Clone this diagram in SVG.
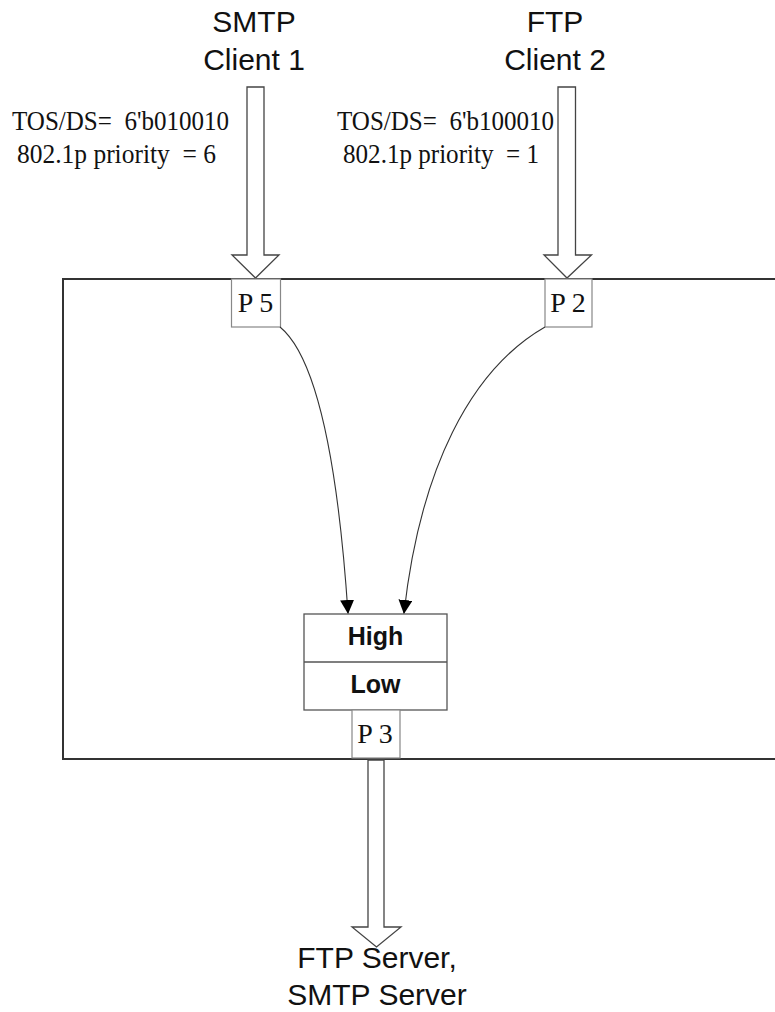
<svg xmlns="http://www.w3.org/2000/svg" width="775" height="1012" viewBox="0 0 775 1012">
<style>
.sans{font-family:"Liberation Sans",Arial,sans-serif;fill:#111}
.serif{font-family:"Liberation Serif","Times New Roman",serif;fill:#111;white-space:pre}
.blk{fill:#fff;stroke:#444;stroke-width:1.3}
.port{fill:#fff;stroke:#888;stroke-width:1.2}
.conn{fill:none;stroke:#333;stroke-width:1.1}
</style>
<defs>
<marker id="ah" viewBox="0 0 14 14" refX="13" refY="7" markerWidth="14" markerHeight="14" markerUnits="userSpaceOnUse" orient="auto">
<path d="M0,0 L14,7 L0,14 Z" fill="#000"/>
</marker>
</defs>
<rect width="775" height="1012" fill="#fff"/>

<g id="switch">
<rect x="63" y="279" width="730" height="480" fill="none" stroke="#333" stroke-width="2"/>
</g>

<g id="smtp-client">
<text class="sans" x="254" y="32" font-size="30" text-anchor="middle">SMTP</text>
<text class="sans" x="254" y="70" font-size="30" text-anchor="middle">Client 1</text>
<text class="serif" x="12" y="130" font-size="27.5" textLength="217" lengthAdjust="spacingAndGlyphs" xml:space="preserve">TOS/DS=  6'b010010</text>
<text class="serif" x="17" y="163" font-size="27.5" textLength="199" lengthAdjust="spacingAndGlyphs" xml:space="preserve">802.1p priority  = 6</text>
<polygon class="blk" points="247,87 264,87 264,255 279,255 255.5,278 232,255 247,255"/>
</g>

<g id="ftp-client">
<text class="sans" x="555" y="32" font-size="30" text-anchor="middle">FTP</text>
<text class="sans" x="555" y="70" font-size="30" text-anchor="middle">Client 2</text>
<text class="serif" x="337" y="130" font-size="27.5" textLength="217" lengthAdjust="spacingAndGlyphs" xml:space="preserve">TOS/DS=  6'b100010</text>
<text class="serif" x="343" y="163" font-size="27.5" textLength="196" lengthAdjust="spacingAndGlyphs" xml:space="preserve">802.1p priority  = 1</text>
<polygon class="blk" points="558,87 575.5,87 575.5,255 591.5,255 567,278 544,255 558,255"/>
</g>

<g id="port-p5">
<rect class="port" x="231.5" y="279" width="49" height="48"/>
<text class="serif" x="255.5" y="312" font-size="28" text-anchor="middle">P 5</text>
</g>

<g id="port-p2">
<rect class="port" x="545" y="279" width="47" height="48"/>
<text class="serif" x="568" y="312" font-size="28" text-anchor="middle">P 2</text>
</g>

<g id="queue">
<rect x="304" y="614" width="143" height="96" fill="#fff" stroke="#555" stroke-width="1.3"/>
<line x1="304" y1="662" x2="447" y2="662" stroke="#555" stroke-width="1.3"/>
<text class="sans" x="375.5" y="645" font-size="25" font-weight="bold" text-anchor="middle">High</text>
<text class="sans" x="375.5" y="693" font-size="25" font-weight="bold" text-anchor="middle">Low</text>
</g>

<g id="port-p3">
<rect class="port" x="352" y="710" width="48" height="48"/>
<text class="serif" x="375" y="743" font-size="28" text-anchor="middle">P 3</text>
</g>

<g id="connectors">
<path class="conn" d="M280,327 C318,358 338,465 348,613" marker-end="url(#ah)"/>
<path class="conn" d="M545,327 C470,370 420,470 404,613" marker-end="url(#ah)"/>
<polygon points="368,760 368,927 352,927 376.5,947 401,927 384,927 384,760" fill="#fff" stroke="#444" stroke-width="1.3"/>
</g>

<g id="servers">
<text class="sans" x="377" y="968" font-size="30" text-anchor="middle">FTP Server,</text>
<text class="sans" x="377" y="1005" font-size="30" text-anchor="middle">SMTP Server</text>
</g>
</svg>
